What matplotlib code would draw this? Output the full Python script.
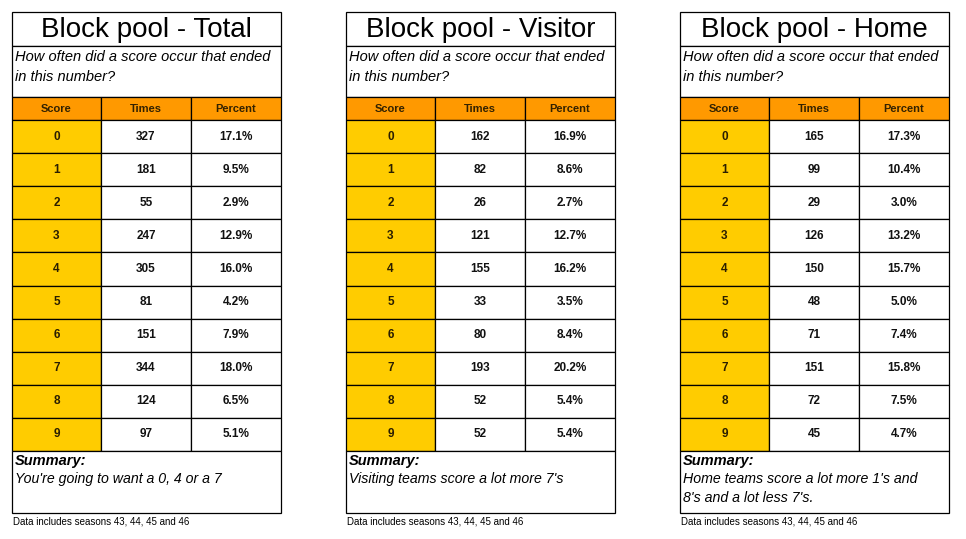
import matplotlib
matplotlib.use("Agg")
import matplotlib.pyplot as plt
from matplotlib.patches import Rectangle

scores = [0, 1, 2, 3, 4, 5, 6, 7, 8, 9]
titles = ["Block pool - Total", "Block pool - Visitor", "Block pool - Home"]
times_total = [327, 181, 55, 247, 305, 81, 151, 344, 124, 97]
pct_total = [17.1, 9.5, 2.9, 12.9, 16.0, 4.2, 7.9, 18.0, 6.5, 5.1]
times_visitor = [162, 82, 26, 121, 155, 33, 80, 193, 52, 52]
pct_visitor = [16.9, 8.6, 2.7, 12.7, 16.2, 3.5, 8.4, 20.2, 5.4, 5.4]
times_home = [165, 99, 29, 126, 150, 48, 71, 151, 72, 45]
pct_home = [17.3, 10.4, 3.0, 13.2, 15.7, 5.0, 7.4, 15.8, 7.5, 4.7]
summaries = ["You're going to want a 0, 4 or a 7",
             "Visiting teams score a lot more 7's",
             "Home teams score a lot more 1's and\n8's and a lot less 7's."]
question = "How often did a score occur that ended\nin this number?"
headers = ["Score", "Times", "Percent"]
footer = "Data includes seasons 43, 44, 45 and 46"

ORANGE = "#FF9900"
GOLD = "#FFCC00"
SANS = "Liberation Sans"

fig = plt.figure(figsize=(9.66, 5.39), dpi=100)
ax = fig.add_axes([0, 0, 1, 1])
ax.set_xlim(0, 966)
ax.set_ylim(539, 0)
ax.axis("off")

def box(x, y, w, h, fc="white"):
    ax.add_patch(Rectangle((x, y), w, h, facecolor=fc, edgecolor="black", lw=0.9))

panels = [(times_total, pct_total), (times_visitor, pct_visitor), (times_home, pct_home)]
lefts = [12, 346, 680]
colw = [89, 90, 90]
W = sum(colw)
y_title, y_q, y_head, y_rows = 12, 46, 97, 120
rowh = 33.1
y_sum = y_rows + rowh * len(scores)
y_end = 513

for p, (times, pct) in enumerate(panels):
    x0 = lefts[p]
    xs = [x0, x0 + colw[0], x0 + colw[0] + colw[1]]
    # title
    box(x0, y_title, W, y_q - y_title)
    ax.text(x0 + W / 2, (y_title + y_q) / 2 + 1, titles[p], ha="center", va="center",
            fontsize=20, family=SANS)
    # question
    box(x0, y_q, W, y_head - y_q)
    ax.text(x0 + 3, y_q + 4, question, ha="left", va="top", fontsize=10.5,
            family=SANS, style="italic", linespacing=1.55)
    # header row
    for c in range(3):
        box(xs[c], y_head, colw[c], y_rows - y_head, fc=ORANGE)
        ax.text(xs[c] + colw[c] / 2, (y_head + y_rows) / 2, headers[c], ha="center",
                va="center", fontsize=8, weight="bold", family=SANS, color="#332200")
    # data rows
    for i, s in enumerate(scores):
        y = y_rows + i * rowh
        vals = [str(s), str(times[i]), "%.1f%%" % pct[i]]
        for c in range(3):
            box(xs[c], y, colw[c], rowh, fc=GOLD if c == 0 else "white")
            ax.text(xs[c] + colw[c] / 2, y + rowh / 2, vals[c], ha="center", va="center",
                    fontsize=8.5, weight="bold", family=SANS,
                    color="#2a1e00" if c == 0 else "#111111")
    # summary
    box(x0, y_sum, W, y_end - y_sum)
    ax.text(x0 + 3, y_sum + 3, "Summary:", ha="left", va="top", fontsize=10.5,
            family=SANS, style="italic", weight="bold")
    ax.text(x0 + 3, y_sum + 21, summaries[p], ha="left", va="top", fontsize=10.2,
            family=SANS, style="italic", linespacing=1.45)
    ax.text(x0 + 1, 521, footer, ha="left", va="center", fontsize=7, family=SANS)

fig.savefig("out.png", dpi=100)
